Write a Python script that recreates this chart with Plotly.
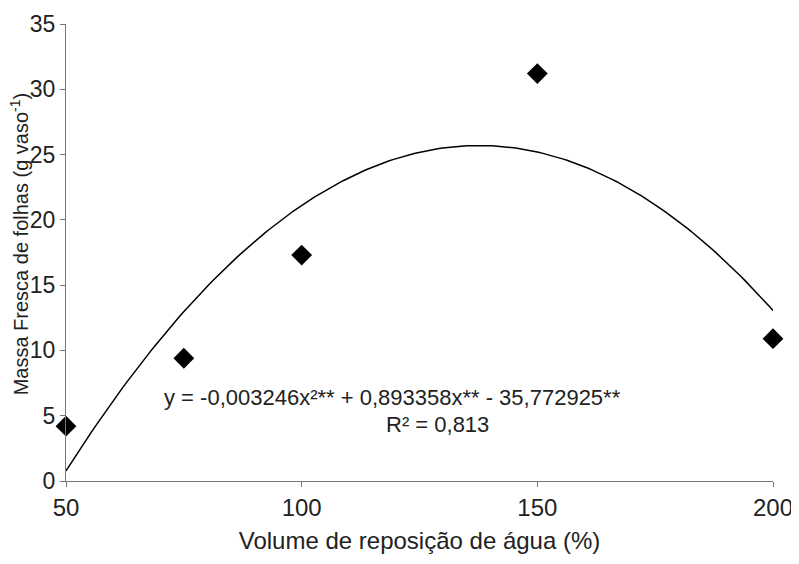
import numpy as np
import plotly.graph_objects as go

# Observed data
volume = [50, 75, 100, 150, 200]
massa = [4.2, 9.4, 17.3, 31.2, 10.9]

# Regression coefficients shown on the chart
coef_a = -0.003246
coef_b = 0.893358
coef_c = -35.772925

x_fit = np.linspace(50, 200, 200)
y_fit = coef_a * x_fit**2 + coef_b * x_fit + coef_c

font = "Liberation Sans, Arial, sans-serif"

fig = go.Figure()
fig.add_trace(go.Scatter(x=x_fit, y=y_fit, mode="lines",
                         line=dict(color="black", width=1.5),
                         showlegend=False, hoverinfo="skip"))
fig.add_trace(go.Scatter(x=volume, y=massa, mode="markers",
                         marker=dict(symbol="diamond", size=16, color="black"),
                         showlegend=False, cliponaxis=False))

fig.add_annotation(x=0.136, y=0.182, xref="paper", yref="paper",
                   text="y = -0,003246x²** + 0,893358x** - 35,772925**",
                   showarrow=False, xanchor="left", yanchor="middle",
                   font=dict(family=font, size=22, color="#222"))
fig.add_annotation(x=0.525, y=0.123, xref="paper", yref="paper",
                   text="R² = 0,813",
                   showarrow=False, xanchor="center", yanchor="middle",
                   font=dict(family=font, size=22, color="#222"))
# y-axis title
fig.add_annotation(x=-0.0665, y=0.52, xref="paper", yref="paper",
                   text="Massa Fresca de folhas (g vaso<sup>-1</sup>)",
                   textangle=-90, showarrow=False,
                   xanchor="center", yanchor="middle",
                   font=dict(family=font, size=20, color="#222"))

fig.update_layout(
    width=791, height=556,
    margin=dict(l=58, r=26, t=16, b=83, autoexpand=False),
    paper_bgcolor="white", plot_bgcolor="white",
    font=dict(family=font, size=24, color="#222"),
    xaxis=dict(range=[50, 200], tickvals=[50, 100, 150, 200],
               showline=True, linecolor="#777", linewidth=1,
               ticks="outside", ticklen=5, tickcolor="#777",
               tickfont=dict(size=24),
               showgrid=False, zeroline=False,
               title=dict(text="Volume de reposição de água (%)", standoff=12,
                          font=dict(size=24))),
    yaxis=dict(range=[0, 35], tickvals=[0, 5, 10, 15, 20, 25, 30, 35],
               showline=True, linecolor="#777", linewidth=1,
               ticks="outside", ticklen=5, tickcolor="#777",
               tickfont=dict(size=23),
               showgrid=False, zeroline=False),
)

fig.write_html("out.html")
